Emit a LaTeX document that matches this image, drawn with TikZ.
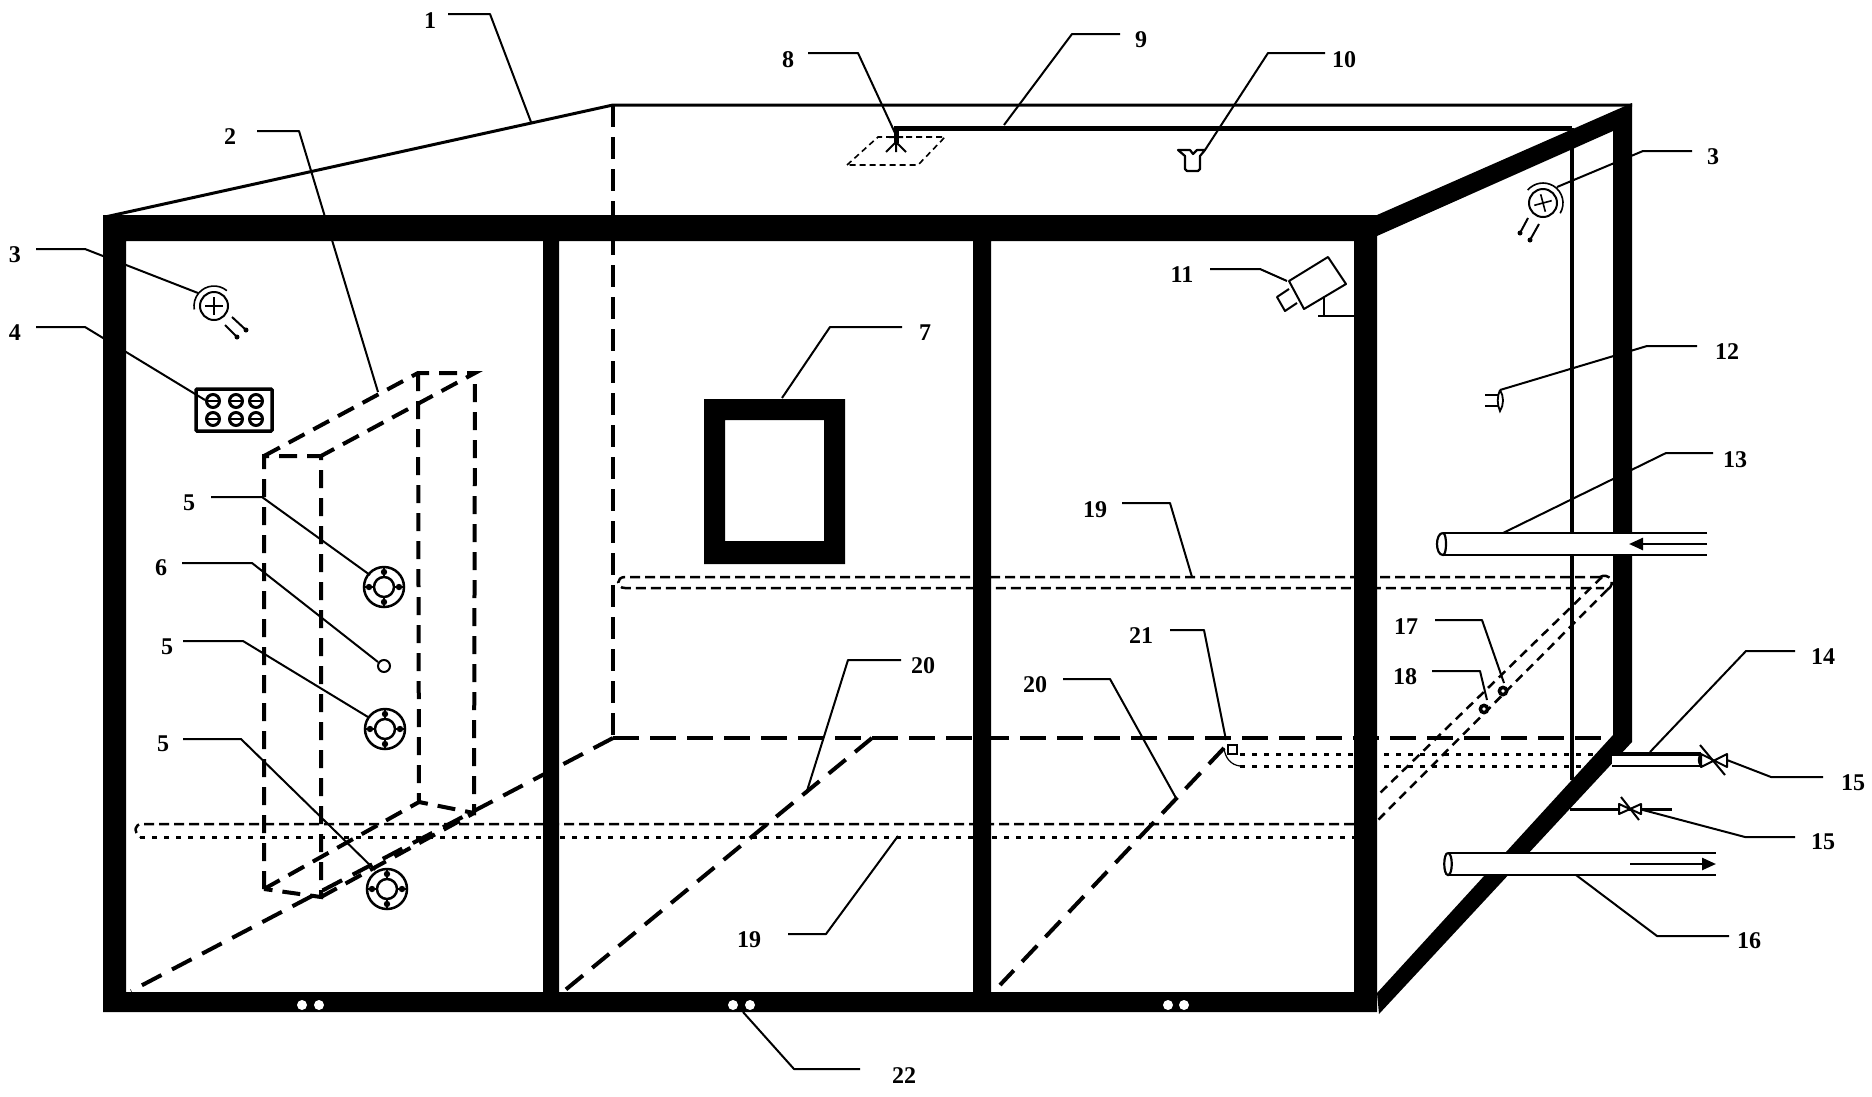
\documentclass[tikz,border=0pt]{standalone}
\usepackage{fontspec}
\setmainfont{Liberation Serif}
\usetikzlibrary{arrows.meta}
\tikzset{
  lbl/.style={font=\fontsize{24}{24}\selectfont\bfseries,inner sep=0pt},
  lead/.style={line width=2pt,line join=round},
  heavydash/.style={line width=4.5pt,dash pattern=on 26pt off 11pt},
  diagdash/.style={line width=4pt,dash pattern=on 22pt off 12pt},
  boxdash/.style={line width=4pt,dash pattern=on 18pt off 10pt},
  pipedash/.style={line width=2.5pt,dash pattern=on 10pt off 5pt},
  pipedot/.style={line width=3pt,dash pattern=on 5pt off 7pt},
  thinpipe/.style={line width=2.5pt,dash pattern=on 9pt off 6pt},
  tube/.style={line width=2.5pt,fill=white},
}
\newcommand{\flangemark}[2]{%
\begin{scope}[shift={(#1,#2)},x=1pt,y=1pt]
  \draw[line width=2.5pt] (0,0) circle[radius=20pt] (0,0) circle[radius=10pt];
  \foreach \a in {0,90,180,270}{
    \draw[line width=2.5pt] (\a:10) -- (\a:20);
    \fill (\a:15) circle[radius=3.2pt];
  }
\end{scope}}
\newcommand{\sensormark}[5]{%
\begin{scope}[shift={(#1,#2)},x=1pt,y=1pt]
  \draw[line width=2pt] (0,0) circle[radius=14pt];
  \draw[line width=1.6pt,rotate=#3] (-9,0) -- (9,0) (0,-9) -- (0,9);
  \draw[line width=1.6pt] (#4:20) arc[start angle=#4,end angle=#5,radius=20pt];
\end{scope}}
\newcommand{\plugdot}[2]{\fill (#1,#2) circle[radius=2.5pt];}
\begin{document}
\begin{tikzpicture}[x=1pt,y=-1pt]
\useasboundingbox (0,0) rectangle (1872,1096);
\fill[white] (0,0) rectangle (1872,1096);

% hidden and back edges
\draw[line width=3pt] (105,217) -- (613,105) -- (1632,105);
\draw[boxdash,dash pattern=on 22pt off 10pt] (613,105) -- (613,738);
\draw[heavydash] (613,738) -- (1613,738);
\draw[diagdash] (613,738) -- (131,991);
\draw[diagdash] (872,738) -- (564,991);
\draw[diagdash] (1224,748) -- (1000,985);

% dashed box
\draw[boxdash] (264,889) -- (264,456) -- (321,456) -- (321,897) -- cycle;
\draw[boxdash] (264,456) -- (418,373) -- (475,373) -- (321,456);
\draw[boxdash] (418,373) -- (419,802) -- (474,813) -- (475,373);
\draw[boxdash] (264,889) -- (419,802) (321,897) -- (474,813);

% floor and wall pipes
\draw[pipedash] (1354,824) -- (142,824) .. controls (135,824) and (133,831) .. (140,837);
\draw[pipedot] (140,837) -- (1354,837);
\draw[pipedash] (1600,577) -- (625,577) .. controls (616,577) and (616,588) .. (625,588) -- (1604,588);
\draw[pipedash] (1600,577) .. controls (1608,572) and (1618,583) .. (1607,590);
\draw[thinpipe] (1602,577) -- (1378,795);
\draw[thinpipe] (1607,590) -- (1378,820);
\draw[pipedot] (1240,754) -- (1600,754);
\draw[pipedot] (1240,766) -- (1590,766);
\draw[line width=1.2pt] (1224,748) .. controls (1225,758) and (1231,765) .. (1240,766);
\draw[line width=1.4pt] (1228,745) rectangle (1237,754);
\fill (1503,691) circle[radius=5.5pt] (1484,709) circle[radius=5.5pt];
\fill[white] (1503,691) circle[radius=1.8pt] (1484,709) circle[radius=1.8pt];

% water pipe
\draw[line width=5pt] (896,143) -- (896,128) -- (1572,128);
\draw[line width=4pt] (1572,128) -- (1572,780);

% frame
\fill[even odd rule] (103,215) rectangle (1377,1012)
  (126,241) rectangle (543,992) (559,241) rectangle (973,992) (991,241) rectangle (1354,992);
\fill (1377,215) -- (1632,103) -- (1632,742) -- (1379,1014) -- (1377,993) -- (1613,735) -- (1613,131) -- (1377,236) -- cycle;
\foreach \p in {302,319,733,750,1168,1184}{\fill[white] (\p,1005) circle[radius=5pt];}

% window
\fill[even odd rule] (704,399) rectangle (845,564) (725,420) rectangle (824,541);

% sprinkler
\draw[line width=1.6pt,dashed,dash pattern=on 6pt off 4pt] (847,165) -- (878,137) -- (945,137) -- (918,165) -- cycle;
\draw[line width=2pt] (896,128) -- (896,152) (896,142) -- (886,152) (896,142) -- (906,152) (889,137) -- (903,137);

% horn 10
\draw[line width=2.2pt,line join=round] (1178,150) -- (1190,150) -- (1193,154) -- (1197,150) -- (1205,150) -- (1200,156) -- (1200,169) -- (1198,171) -- (1187,171) -- (1185,169) -- (1185,156) -- cycle;

% sensors
\sensormark{214}{306}{0}{50}{190}
\sensormark{1543}{203}{15}{-31}{140}
\draw[line width=2pt] (232,317) -- (246,330) (225,325) -- (237,337);
\plugdot{246}{330}\plugdot{237}{337}
\draw[line width=2pt] (1528,218) -- (1520,233) (1539,224) -- (1530,240);
\plugdot{1520}{233}\plugdot{1530}{240}

% panel 4
\draw[line width=3.5pt,rounded corners=1pt] (196,389) rectangle (272,431);
\foreach \cx in {213,236,256}{\foreach \cy in {401,419}{
  \draw[line width=3pt] (\cx,\cy) circle[radius=6.5pt];
  \draw[line width=2.5pt] (\cx-6,\cy) -- (\cx+6,\cy);
}}

% outlets 5, 6
\flangemark{384}{587}
\flangemark{385}{729}
\flangemark{387}{889}
\draw[line width=2pt] (384,666) circle[radius=6pt];

% camera
\draw[line width=2pt,line join=round] (1289,281) -- (1328,257) -- (1346,284) -- (1304,309) -- cycle;
\draw[line width=2pt,line join=round] (1289,289) -- (1277,297) -- (1285,311) -- (1297,303);
\draw[line width=2pt] (1324,298) -- (1324,316) (1318,316) -- (1354,316);

% device 12
\draw[line width=1.8pt] (1500,390) .. controls (1504,396) and (1504,405) .. (1500,411) .. controls (1497,405) and (1497,396) .. (1500,390);
\draw[line width=2pt] (1485,395) -- (1499,395) (1485,406) -- (1499,406);

% pipe 13
\fill[white] (1443,534) rectangle (1707,554);
\draw[line width=2.5pt] (1707,533) -- (1443,533) (1443,555) -- (1707,555);
\draw[line width=2.2pt,fill=white] (1443,533) .. controls (1435,533) and (1435,555) .. (1443,555) .. controls (1447,555) and (1447,533) .. (1443,533);
\draw[line width=2.5pt,-{Triangle[length=14pt,width=12pt]}] (1707,544) -- (1629,544);

% pipe 14 with valve
\fill[white] (1612,755) rectangle (1701,765);
\draw[line width=4pt] (1612,754) -- (1701,754);
\draw[line width=2.5pt] (1612,766) -- (1701,766);
\draw[line width=2pt] (1701,754) .. controls (1698,758) and (1698,762) .. (1701,766);
\draw[line width=2pt,line join=round] (1701,754) -- (1727,767) -- (1727,754) -- (1701,767) -- cycle;
\draw[line width=2pt] (1700,745) -- (1725,775);

% drain with valve
\draw[line width=3pt] (1570,809) -- (1672,809);
\draw[line width=2pt,fill=white,line join=round] (1619,804) -- (1641,814) -- (1641,804) -- (1619,814) -- cycle;
\draw[line width=2pt] (1621,797) -- (1639,820);

% pipe 16
\fill[white] (1448,854) rectangle (1716,874);
\draw[line width=2.5pt] (1448,853) -- (1716,853) (1448,875) -- (1716,875);
\draw[line width=2.2pt,fill=white] (1448,853) .. controls (1443,853) and (1443,875) .. (1448,875) .. controls (1453,875) and (1453,853) .. (1448,853);
\draw[line width=2.5pt,-{Triangle[length=14pt,width=12pt]}] (1630,864) -- (1716,864);

% leaders
\draw[lead] (448,14) -- (490,14) -- (531,122);
\draw[lead] (257,131) -- (299,131) -- (378,392);
\draw[lead] (36,249) -- (85,249) -- (198,293);
\draw[lead] (36,327) -- (85,327) -- (205,400);
\draw[lead] (211,497) -- (262,497) -- (370,575);
\draw[lead] (183,641) -- (243,641) -- (368,717);
\draw[lead] (183,739) -- (241,739) -- (375,870);
\draw[lead] (182,563) -- (252,563) -- (378,662);
\draw[lead] (902,327) -- (830,327) -- (782,398);
\draw[lead] (808,53) -- (858,53) -- (895,133);
\draw[lead] (1120,34) -- (1072,34) -- (1004,125);
\draw[lead] (1325,53) -- (1268,53) -- (1205,150);
\draw[lead] (1210,269) -- (1260,269) -- (1287,281);
\draw[lead] (1692,151) -- (1643,151) -- (1557,187);
\draw[lead] (1697,346) -- (1647,346) -- (1500,390);
\draw[lead] (1713,453) -- (1666,453) -- (1503,533);
\draw[lead] (1795,651) -- (1746,651) -- (1650,752);
\draw[lead] (1823,777) -- (1771,777) -- (1727,760);
\draw[lead] (1795,837) -- (1745,837) -- (1643,810);
\draw[lead] (1729,936) -- (1657,936) -- (1576,875);
\draw[lead] (1435,620) -- (1482,620) -- (1504,683);
\draw[lead] (1432,671) -- (1480,671) -- (1487,700);
\draw[lead] (1122,503) -- (1170,503) -- (1192,577);
\draw[lead] (788,934) -- (826,934) -- (898,836);
\draw[lead] (901,660) -- (848,660) -- (806,794);
\draw[lead] (1063,679) -- (1110,679) -- (1176,798);
\draw[lead] (1170,630) -- (1204,630) -- (1226,740);
\draw[lead] (860,1069) -- (794,1069) -- (743,1012);

% labels
\node[lbl] (n1) at (430,21) {1};
\node[lbl] (n2) at (230,137) {2};
\node[lbl] (n3a) at (15,255) {3};
\node[lbl] (n4) at (15,333) {4};
\node[lbl] (n5a) at (189,503) {5};
\node[lbl] (n5b) at (167,647) {5};
\node[lbl] (n5c) at (163,744) {5};
\node[lbl] (n6) at (161,568) {6};
\node[lbl] (n7) at (925,333) {7};
\node[lbl] (n8) at (788,60) {8};
\node[lbl] (n9) at (1141,40) {9};
\node[lbl] (n10) at (1344,60) {10};
\node[lbl] (n11) at (1182,275) {11};
\node[lbl] (n3b) at (1713,157) {3};
\node[lbl] (n12) at (1727,352) {12};
\node[lbl] (n13) at (1735,460) {13};
\node[lbl] (n14) at (1823,657) {14};
\node[lbl] (n15a) at (1853,783) {15};
\node[lbl] (n15b) at (1823,842) {15};
\node[lbl] (n16) at (1749,941) {16};
\node[lbl] (n17) at (1406,627) {17};
\node[lbl] (n18) at (1405,677) {18};
\node[lbl] (n19a) at (1095,510) {19};
\node[lbl] (n19b) at (749,940) {19};
\node[lbl] (n20a) at (923,666) {20};
\node[lbl] (n20b) at (1035,685) {20};
\node[lbl] (n21) at (1141,636) {21};
\node[lbl] (n22) at (904,1076) {22};
\end{tikzpicture}
\end{document}
